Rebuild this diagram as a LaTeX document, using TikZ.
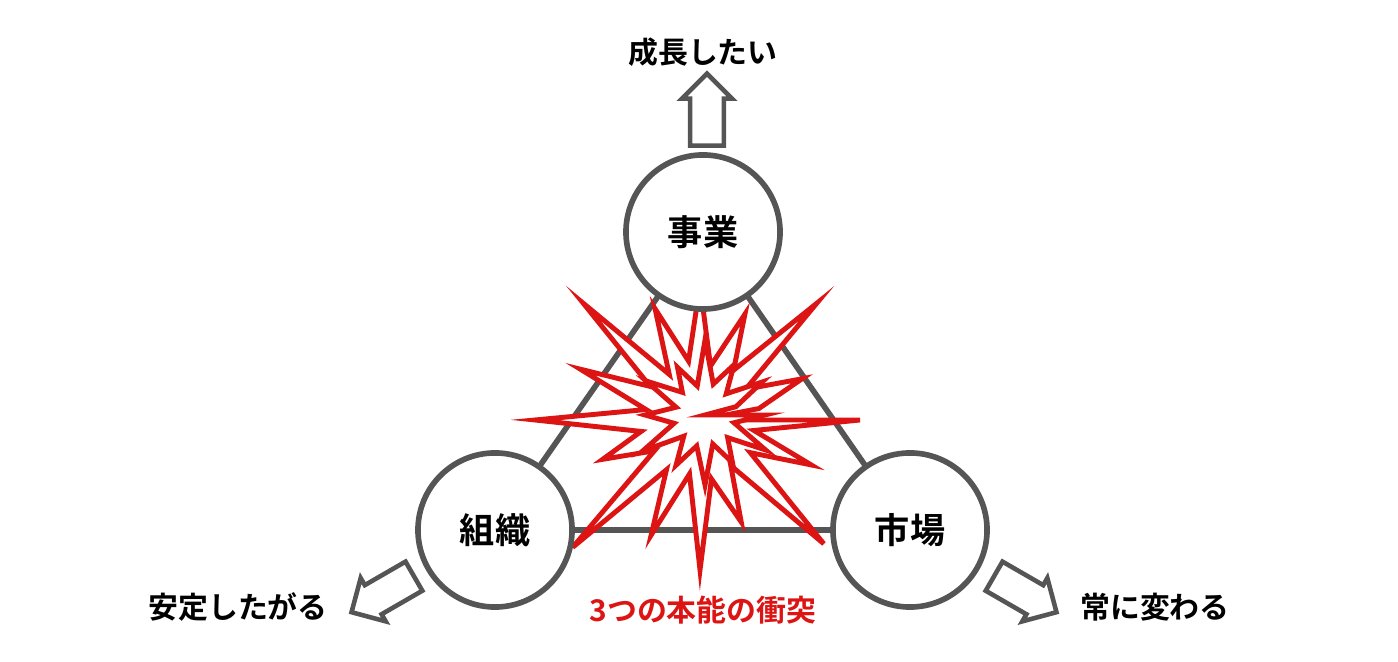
\documentclass[tikz,border=0pt]{standalone}
\usepackage{fontspec}
\setmainfont{Noto Sans CJK JP}[BoldFont={Noto Sans CJK JP Bold}]
\usetikzlibrary{shapes.arrows,positioning,calc}
\definecolor{linegray}{RGB}{85,85,85}
\definecolor{boomred}{RGB}{220,20,20}
\tikzset{
  instinct/.style={circle,draw=linegray,line width=1.6pt,fill=white,minimum size=1.54cm,inner sep=0pt,font=\fontsize{10}{12}\selectfont\bfseries},
  push/.style={single arrow,draw=linegray,line width=1.3pt,fill=white,minimum height=0.72cm,minimum width=0.5cm,single arrow head extend=0.06cm,inner xsep=0pt,inner ysep=0.1cm},
  wish/.style={font=\fontsize{8.5}{10}\selectfont\bfseries}
}
\begin{document}
\begin{tikzpicture}[x=0.01cm,y=-0.01cm]
  \useasboundingbox (0,0) rectangle (1398,662);
  % three instincts
  \coordinate (pj) at (703,232);
  \coordinate (po) at (495,530);
  \coordinate (pm) at (910,530);
  \draw[linegray,line width=1.6pt] (pj)--(po)--(pm)--cycle;
  % explosion
  \draw[boomred,line width=1.4pt,fill=white] (700,420)
    \foreach \a/\r in {0/160,11/55,22/120,33/60,45/175,56/55,68/110,79/60,90/150,101/55,113/125,124/60,135/180,146/55,158/105,169/60,180/165,191/55,203/130,214/60,225/165,236/55,248/120,259/60,270/135,281/55,293/115,304/60,315/165,326/55,338/110,349/60}
      {-- ($(700,420)+(\a:\r)$)} -- cycle;
  \draw[boomred,line width=1.4pt,fill=white] (705,415)
    \foreach \a/\r in {0/60,15/30,30/70,45/32,60/55,75/30,90/70,105/32,120/58,135/30,150/72,165/32,180/60,195/30,210/68,225/32,240/55,255/30,270/75,285/32,300/58,315/30,330/66,345/32}
      {-- ($(705,415)+(\a:\r)$)} -- cycle;
  \node[instinct] (jigyo) at (pj) {事業};
  \node[instinct] (soshiki) at (po) {組織};
  \node[instinct] (shijo) at (pm) {市場};
  % arrows
  \node[push,rotate=90] (up) at (707,118) {};
  \node[push,rotate=-150] (dl) at (390,590) {};
  \node[push,rotate=-30] (dr) at (1018,590) {};
  \node[wish] (grow) at (703,52) {成長したい};
  \node[wish] (stable) at (238,607) {安定したがる};
  \node[wish] (change) at (1155,607) {常に変わる};
  \node[wish,text=boomred] (clash) at (703,610) {3つの本能の衝突};
\end{tikzpicture}
\end{document}
